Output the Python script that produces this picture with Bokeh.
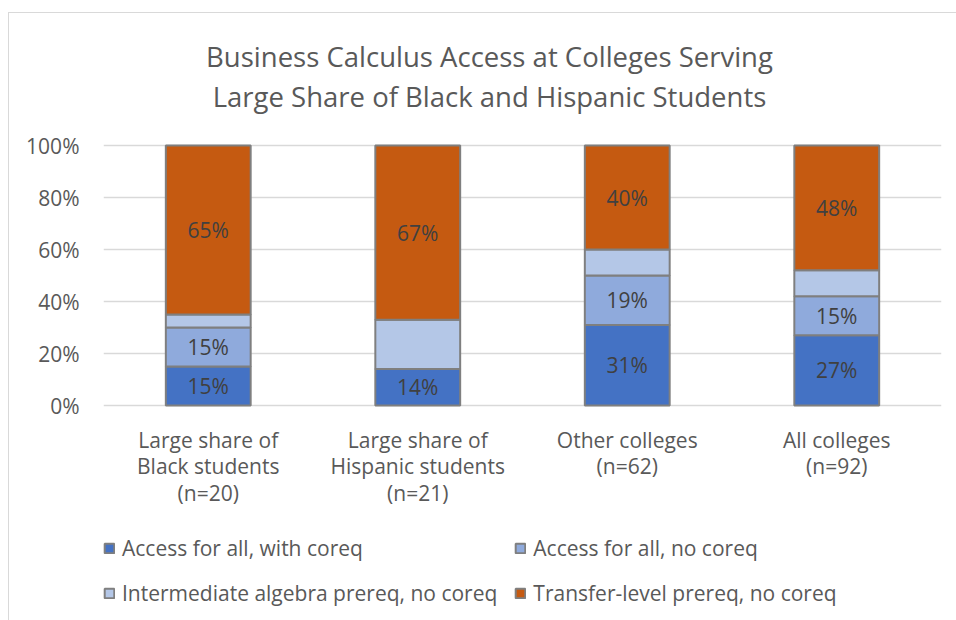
from bokeh.plotting import figure
from bokeh.models import (FactorRange, Range1d, ColumnDataSource, Legend, LegendItem, Label,
                          FixedTicker, PrintfTickFormatter)
from bokeh.core.properties import value
from bokeh.embed import file_html
from bokeh.resources import INLINE

categories = ["Large share of\nBlack students\n(n=20)",
              "Large share of\nHispanic students\n(n=21)",
              "Other colleges\n(n=62)",
              "All colleges\n(n=92)"]
series_names = ["Access for all, with coreq", "Access for all, no coreq",
                "Intermediate algebra prereq, no coreq", "Transfer-level prereq, no coreq"]
with_coreq = [15, 14, 31, 27]
no_coreq = [15, 0, 19, 15]
intermediate = [5, 19, 10, 10]
transfer = [65, 67, 40, 48]
show_labels = [True, True, False, True]
colors = ["#4472C4", "#8FAADC", "#B4C7E7", "#C55A11"]
y_ticks = [0, 20, 40, 60, 80, 100]
title_lines = ["Business Calculus Access at Colleges Serving",
               "Large Share of Black and Hispanic Students"]

FONT = "Open Sans"
TXT = "#595959"
series = [with_coreq, no_coreq, intermediate, transfer]
keys = ["s0", "s1", "s2", "s3"]

data = {"cat": categories}
for k, s in zip(keys, series):
    data[k] = s
src = ColumnDataSource(data)

# layout geometry (pixels): 260 px for 0..100 %, room above for the title
# and below for category labels + legend, all kept inside the plot frame
PX_PER_UNIT = 2.6
ABOVE_PX = 132
BELOW_PX = 216
CAT_PX = 209.5
p = figure(x_range=FactorRange(*categories),
           y_range=Range1d(-BELOW_PX / PX_PER_UNIT, 100 + ABOVE_PX / PX_PER_UNIT),
           width=948, height=608, output_backend="svg", toolbar_location=None,
           x_axis_location=None, title_location=None,
           min_border_left=94, min_border_right=16, min_border_top=0, min_border_bottom=0)
p.margin = (12, 0, 0, 8)
p.styles = {"border-left": "1px solid #D9D9D9", "border-top": "1px solid #D9D9D9"}
p.outline_line_color = None
p.background_fill_color = "white"
p.border_fill_color = "white"

renderers = p.vbar_stack(keys, x="cat", width=0.405, source=src, color=colors,
                         line_color="#7F7F7F", line_width=2)

# data labels
lx, ly, lt = [], [], []
for i, cat in enumerate(categories):
    base = 0
    for s, show in zip(series, show_labels):
        v = s[i]
        if show and v > 0:
            lx.append(cat)
            ly.append(base + v / 2)
            lt.append(f"{v}%")
        base += v
p.text(x="cat", y="y", text="t", source=ColumnDataSource(dict(cat=lx, y=ly, t=lt)),
       text_align="center", text_baseline="middle", text_font=value(FONT),
       text_font_size="21px", text_color="#404040")

# category labels under each bar
p.text(x="cat", y=0, text="cat", source=src, y_offset=20,
       text_align="center", text_baseline="top", text_font=value(FONT),
       text_font_size="21px", text_color=TXT, text_line_height=0.96)

# y axis
p.yaxis.ticker = FixedTicker(ticks=y_ticks)
p.yaxis.formatter = PrintfTickFormatter(format="%d%%")
ax = p.yaxis[0]
ax.axis_line_color = None
ax.major_tick_line_color = None
ax.minor_tick_line_color = None
ax.major_label_text_font = FONT
ax.major_label_text_color = TXT
ax.major_label_text_font_size = "21px"
ax.major_label_standoff = 18
p.xgrid.grid_line_color = None
p.ygrid.grid_line_color = "#D9D9D9"
p.ygrid.grid_line_width = 1.5
p.ygrid.ticker = FixedTicker(ticks=y_ticks)

# title (two centred lines, placed above the 100 % line)
title_x = (488 - 102) / CAT_PX
for txt, px_above_zero in zip(title_lines, [349, 309]):
    p.add_layout(Label(x=title_x, y=px_above_zero / PX_PER_UNIT, text=txt,
                       text_align="center", text_baseline="middle", text_font=FONT,
                       text_font_size="27.5px", text_color=TXT))

legend = Legend(items=[LegendItem(label=n, renderers=[r]) for n, r in zip(series_names, renderers)],
                orientation="horizontal", ncols=2, location=(0, 14),
                border_line_color=None, background_fill_alpha=0,
                label_text_font=FONT, label_text_font_size="21px", label_text_color=TXT,
                glyph_width=12, glyph_height=12, label_standoff=7, spacing=17,
                padding=0, margin=0)
p.add_layout(legend, "center")

open("out.html", "w").write(file_html(p, INLINE))
